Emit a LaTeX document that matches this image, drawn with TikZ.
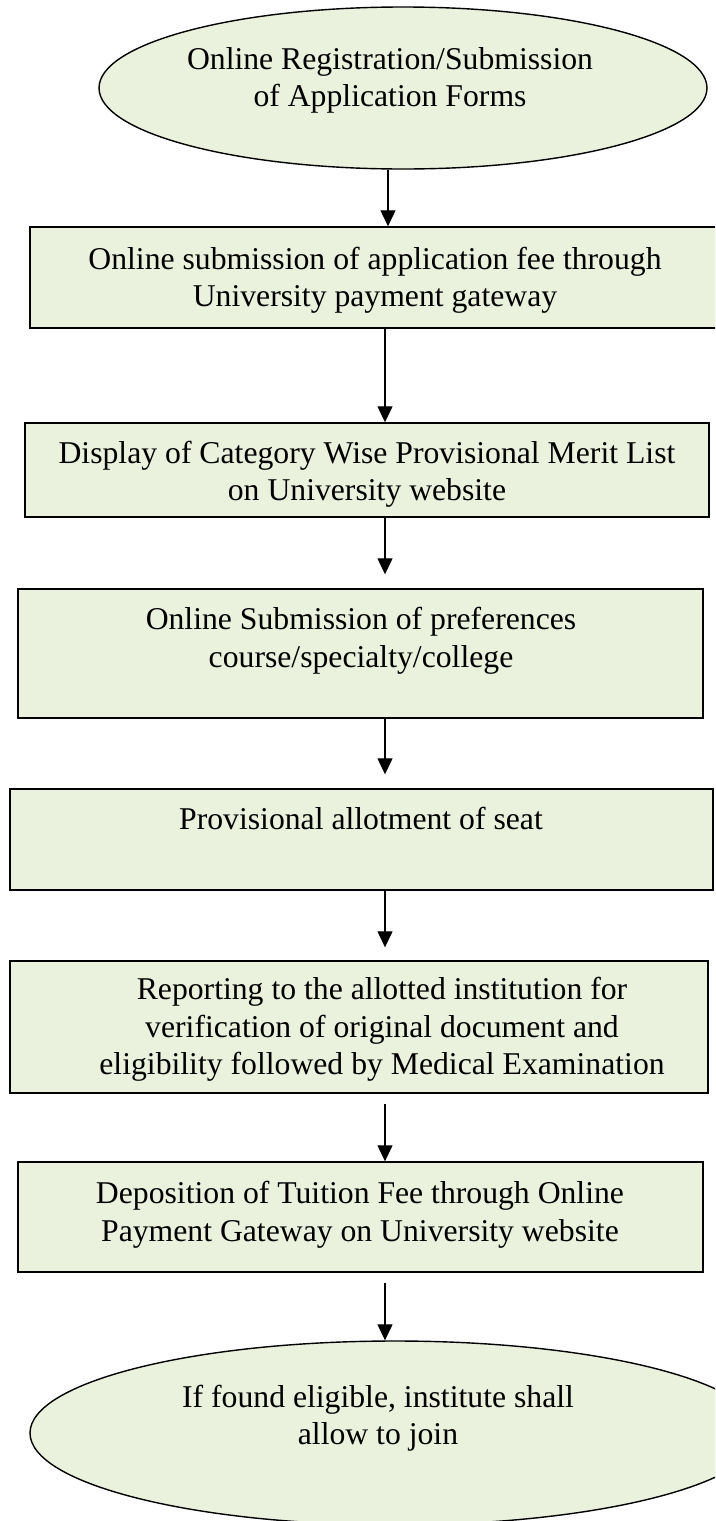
\documentclass[tikz,border=0pt]{standalone}
\usepackage{fontspec}
\setmainfont{Liberation Serif}
\usetikzlibrary{arrows.meta,shapes.geometric}
\definecolor{boxfill}{HTML}{EAF1DD}
\begin{document}
\begin{tikzpicture}[x=1pt,y=-1pt,
  box/.style={draw=black, line width=1.4pt, fill=boxfill, rectangle, inner sep=0pt},
  oval/.style={draw=black, line width=1.4pt, fill=boxfill, ellipse, inner sep=0pt},
  txt/.style={align=center, inner sep=0pt, font=\fontsize{31.7}{37.5}\selectfont},
  arr/.style={-{Triangle[length=16pt,width=15pt]}, line width=1.3pt}]
\useasboundingbox (0,0) rectangle (715,1521);
\clip (0,0) rectangle (715,1521);

% shapes
\node[oval, minimum width=608pt, minimum height=162pt] (e1) at (403,88) {};
\node[box, minimum width=710pt, minimum height=101pt] (bA) at (385,277.5) {};
\node[box, minimum width=684pt, minimum height=94pt] (bB) at (367,470) {};
\node[box, minimum width=685pt, minimum height=129pt] (bC) at (360.5,653.5) {};
\node[box, minimum width=703pt, minimum height=101pt] (bD) at (361.5,839.5) {};
\node[box, minimum width=698pt, minimum height=132pt] (bE) at (359,1027) {};
\node[box, minimum width=685pt, minimum height=110pt] (bF) at (360.5,1217) {};
\node[oval, minimum width=730pt, minimum height=184pt] (e2) at (395,1433) {};

% texts
\node[txt] (t1) at (390,80.5) {Online Registration/Submission\\of Application Forms};
\node[txt] (tA) at (375,280.5) {Online submission of application fee through\\University payment gateway};
\node[txt] (tB) at (367,474.5) {Display of Category Wise Provisional Merit List\\on University website};
\node[txt] (tC) at (361,641) {Online Submission of preferences\\course/specialty/college};
\node[txt] (tD) at (361,818) {Provisional allotment of seat};
\node[txt] (tE) at (382,1029.7) {Reporting to the allotted institution for\\verification of original document and\\eligibility followed by Medical Examination};
\node[txt] (tF) at (360,1214.5) {Deposition of Tuition Fee through Online\\Payment Gateway on University website};
\node[txt] (t2) at (378,1418) {If found eligible, institute shall\\allow to join};

% connectors
\coordinate (c1) at (388,0);
\coordinate (c2) at (385,0);
\draw[arr] (e1.south -| c1) -- (bA.north -| c1);
\draw[arr] (bA.south -| c2) -- (bB.north -| c2);
\draw[arr, shorten >=14pt] (bB.south -| c2) -- (bC.north -| c2);
\draw[arr, shorten >=14pt] (bC.south -| c2) -- (bD.north -| c2);
\draw[arr, shorten >=13pt] (bD.south -| c2) -- (bE.north -| c2);
\draw[arr, shorten <=10pt] (bE.south -| c2) -- (bF.north -| c2);
\draw[arr, shorten <=10pt] (bF.south -| c2) -- (e2.north -| c2);
\end{tikzpicture}
\end{document}
